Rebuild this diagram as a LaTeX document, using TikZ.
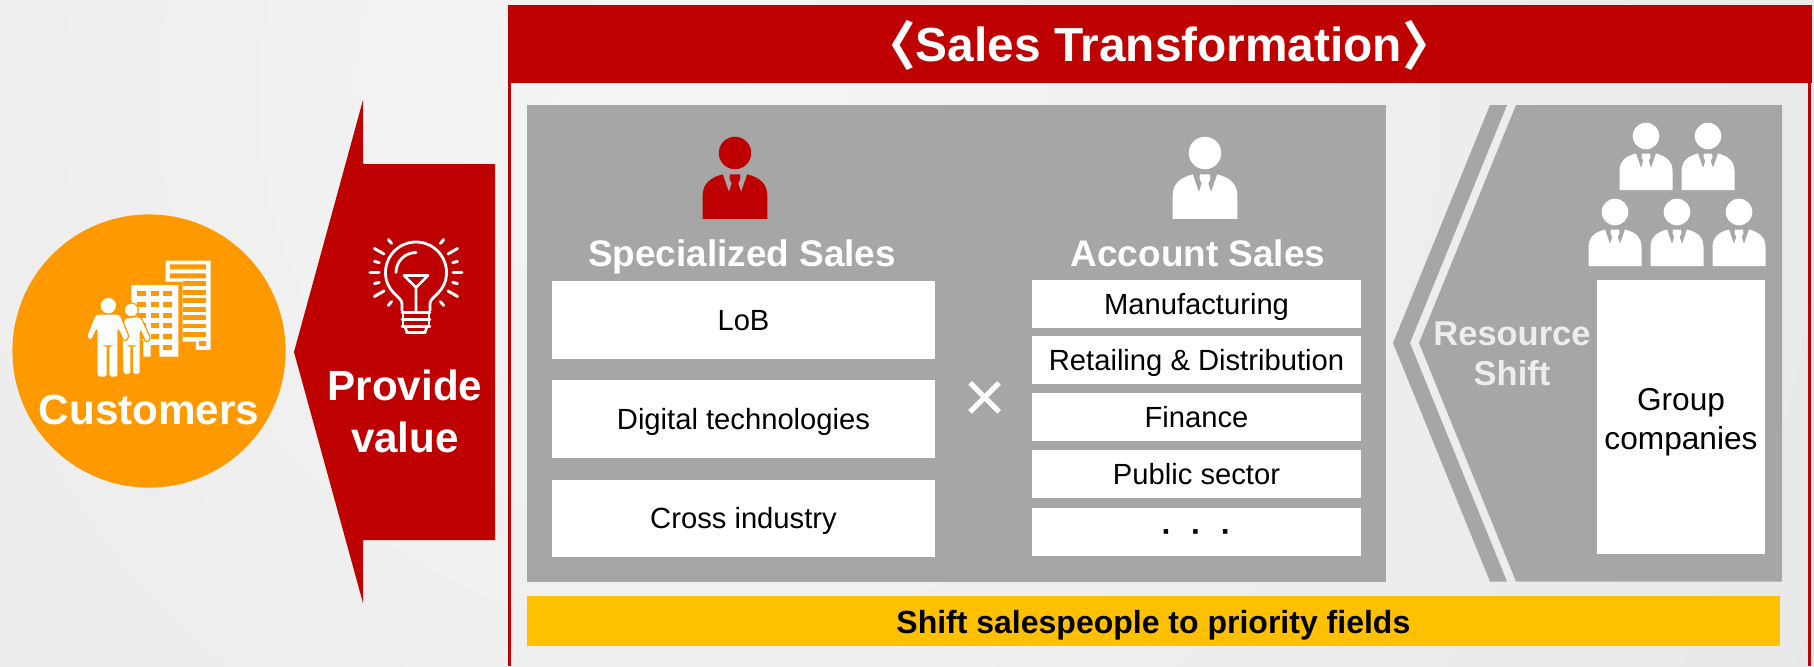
\documentclass[tikz,border=0pt]{standalone}
\usepackage{fontspec}
\setmainfont{Liberation Sans}
\newfontfamily\cjk{Noto Sans CJK JP}
\usetikzlibrary{positioning}

\definecolor{salesred}{HTML}{BE0000}
\definecolor{panelgrey}{HTML}{A6A6A6}
\definecolor{custorange}{HTML}{FF9900}
\definecolor{baryellow}{HTML}{FFC000}
\definecolor{pagelight}{HTML}{F5F5F5}
\definecolor{pagedark}{HTML}{DDDDDD}

\newcommand{\headbracket}[1]{\raisebox{-1.3pt}{\cjk\fontsize{15}{15}\selectfont #1}}

\tikzset{
    person/.pic={
        \fill[pic actions] (0,0) circle (13.3);
        \fill[pic actions] (-26.5,54) -- (-26.5,35) .. controls (-26.5,25) and (-20,20) .. (-10,17.5)
            -- (-5,32) -- (-2.7,25) -- (-4.5,21) -- (-4,17.5) -- (4,17.5) -- (4.5,21) -- (2.7,25)
            -- (5,32) -- (10,17.5) .. controls (20,20) and (26.5,25) .. (26.5,35) -- (26.5,54) -- cycle;
    },
    bulb/.pic={
        \draw[white, line width=0.028cm, line join=round, line cap=round]
            (-14,38) -- (-14,31) .. controls (-14,24) and (-30.5,20) .. (-30.5,0)
            arc[start angle=180, end angle=360, radius=30.5]
            .. controls (30.5,20) and (14,24) .. (14,31) -- (14,38);
        \draw[white, line width=0.028cm, line cap=round] (-20,0) arc[start angle=180, end angle=270, radius=20];
        \draw[white, line width=0.028cm, line join=round] (-12,3) -- (12,3) -- (0,15) -- cycle (0,15) -- (0,40);
        \draw[white, line width=0.028cm, line cap=round] (-14,40) -- (14,40) (-14,47) -- (14,47) (-14,54) -- (14,54);
        \draw[white, line width=0.028cm, line cap=round] (-13,40) -- (-13,54) (13,40) -- (13,54);
        \draw[white, line width=0.028cm, line cap=round] (-11,54) -- (-9,60) -- (9,60) -- (11,54);
        \foreach \ang/\rin/\rout in {0/37/46, 15/38/43, 30/37/48, 50/38/43, 130/38/43, 150/37/48, 165/38/43, 180/37/46,
            195/38/43, 210/37/48, 230/38/43, 310/38/43, 330/37/48, 345/38/43}
            \draw[white, line width=0.03cm, line cap=round] (\ang:\rin) -- (\ang:\rout);
    },
    customer_icon/.pic={
        % back building
        \fill[white] (317,62) -- (452,62) -- (452,330) -- (408,330) -- (408,305) -- (368,305) -- (368,125) -- (317,125) -- cycle;
        \fill[custorange] (330,73) rectangle (438,88) (330,100) rectangle (438,115);
        \foreach \k in {0,...,6}
            \fill[custorange] (368,{124+25.5*\k}) rectangle (438,{138+25.5*\k});
        \fill[custorange] (418,304) rectangle (438,318);
        % front building
        \fill[white] (214,135) -- (355,135) -- (355,350) -- (298,350) -- (298,315) -- (272,315) -- (272,350) -- (250,350) -- (250,300) -- (214,300) -- cycle;
        \foreach \row in {153,185,218,250,282}
            \foreach \col in {232,272,310}
                \fill[custorange] (\col,\row) rectangle ++(26,15);
        \fill[custorange] (310,315) rectangle ++(26,15);
        % people
        \fill[white, draw=custorange, line width=0.012cm] (214,210) circle (21);
        \fill[white, draw=custorange, line width=0.012cm, rounded corners=0.03cm] (193,233) -- (242,230) -- (273,296) -- (258,309) -- (241,270)
            -- (241,404) -- (217,404) -- (217,318) -- (213,318) -- (213,404) -- (189,404) -- (186,290) -- cycle;
        \fill[white] (145,197) circle (23);
        \fill[white, draw=custorange, line width=0.012cm, rounded corners=0.03cm] (106,222) -- (180,222) -- (208,292) -- (193,306) -- (174,266)
            -- (174,412) -- (146,412) -- (146,318) -- (142,318) -- (142,412) -- (111,412) -- (111,266) -- (93,304) -- (79,291) -- cycle;
    }
}

\begin{document}
\begin{tikzpicture}[x=0.01cm, y=-0.01cm, node distance=0.215cm]
    % Define styles
    \tikzstyle{rec_left} = [rectangle, fill=white, minimum width=3.83cm, minimum height=0.777cm, inner sep=0pt, outer sep=0pt, text height=7pt, text depth=1.2pt, font=\fontsize{8.3}{10}\selectfont]
    \tikzstyle{rec_right} = [rectangle, fill=white, minimum width=3.29cm, minimum height=0.477cm, inner sep=0pt, outer sep=0pt, text height=7pt, text depth=1.2pt, font=\fontsize{8.3}{10}\selectfont]
    \tikzstyle{rec_group} = [rectangle, fill=white, minimum width=1.68cm, minimum height=2.74cm, inner sep=0pt, outer sep=0pt]
    \tikzstyle{rec_panel} = [rectangle, fill=panelgrey, inner sep=0pt, outer sep=0pt, anchor=north west]
    \tikzstyle{sales_title} = [inner sep=0pt, anchor=base, text=white, font=\bfseries\fontsize{10.5}{13}\selectfont]
    \tikzstyle{big_label} = [inner sep=0pt, text=white, align=center, font=\bfseries\fontsize{12}{14.8}\selectfont]

    \useasboundingbox (0,0) rectangle (1814,666);

    % BACKGROUND
    \begin{scope}
        \clip (0,0) rectangle (1814,666);
        \shade[inner color=pagelight, outer color=pagedark] (700,100) circle (2360);
    \end{scope}

    % CUSTOMERS
    \node (customers_circle) [circle, fill=custorange, minimum size=2.73cm, inner sep=0pt] at (149,351) {};
    \pic at (60,240) [scale=0.3333] {customer_icon};
    \node (customers_label) [big_label] at (149,410) {Customers};

    % PROVIDE VALUE
    \fill[salesred] (294,352) -- (363,100) -- (363,164) -- (495,164) -- (495,540) -- (363,540) -- (363,603) -- cycle;
    \pic at (416,272.5) {bulb};
    \node (provide_label) [big_label] at (405,411) {Provide\\value};

    % FRAME
    \draw[salesred, line width=0.03cm] (509.5,666) -- (509.5,10) (1809.5,10) -- (1809.5,666);
    \node (header) [rectangle, fill=salesred, anchor=north west, minimum width=13.03cm, minimum height=0.78cm, inner sep=0pt, outer sep=0pt] at (508,5) {};
    \node (header_label) [inner sep=0pt, anchor=base, text=white, font=\bfseries\fontsize{13.6}{16}\selectfont] at (1159,61) {\headbracket{〈}Sales Transformation\headbracket{〉}};

    % SALES PANEL
    \node (sales_panel) [rec_panel, minimum width=8.58cm, minimum height=4.77cm] at (527,105) {};
    \pic[fill=salesred] at (735,153) [scale=1.22] {person};
    \pic[fill=white] at (1205,153) [scale=1.22] {person};
    \node (spec_title) [sales_title] at (742,266) {Specialized Sales};
    \node (acc_title) [sales_title] at (1198,266) {Account Sales};

    \node (lob_box) [rec_left] at (743.5,320) {LoB};
    \node (digital_box) [rec_left, below=of lob_box] {Digital technologies};
    \node (cross_box) [rec_left, below=of digital_box] {Cross industry};

    \node (times_label) [inner sep=0pt, text=white, font=\fontsize{21}{25}\selectfont] at (985,402) {×};

    \node (manu_box) [rec_right] at (1196.5,304) {Manufacturing};
    \node (retail_box) [rec_right, below=0.083cm of manu_box] {Retailing \& Distribution};
    \node (finance_box) [rec_right, below=0.093cm of retail_box] {Finance};
    \node (public_box) [rec_right, below=0.093cm of finance_box] {Public sector};
    \node (dots_box) [rec_right, below=0.103cm of public_box, font=\bfseries\fontsize{9}{11}\selectfont] {·\hspace{0.19cm}·\hspace{0.19cm}·};

    % RESOURCE SHIFT
    \fill[panelgrey] (1490,105) -- (1507,105) -- (1410,343) -- (1507,581.5) -- (1490,581.5) -- (1393,343) -- cycle;
    \fill[panelgrey] (1516,105) -- (1782,105) -- (1782,581.5) -- (1516,581.5) -- (1419,343) -- cycle;
    \node (shift_label) [inner sep=0pt, align=center, text=white!93!black, font=\bfseries\fontsize{9.8}{11.4}\selectfont] at (1512,354) {Resource\\Shift};
    \foreach \px in {1646,1708}
        \pic[fill=white] at (\px,136) {person};
    \foreach \px in {1615,1677,1739}
        \pic[fill=white] at (\px,212) {person};
    \node (group_box) [rec_group] at (1681,417) {};
    \node (group_label) [inner sep=0pt, align=center, font=\fontsize{9}{11.1}\selectfont] at (1681,422) {Group\\companies};

    % PRIORITY BAR
    \node (priority_bar) [rectangle, fill=baryellow, anchor=north west, minimum width=12.52cm, minimum height=0.497cm, inner sep=0pt, outer sep=0pt, text height=8.6pt, text depth=1.2pt, font=\bfseries\fontsize{9.1}{11}\selectfont] at (527,596) {Shift salespeople to priority fields};

\end{tikzpicture}
\end{document}
